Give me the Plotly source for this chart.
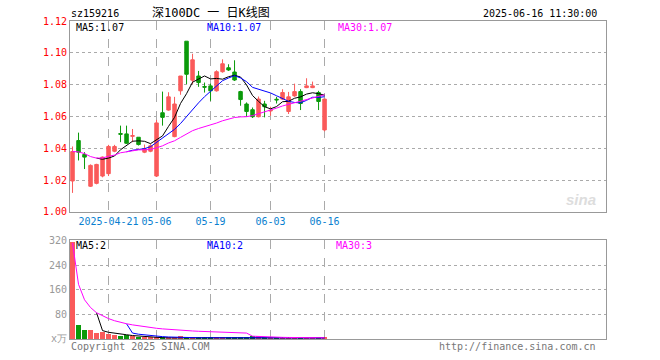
import plotly.graph_objects as go
import pandas as pd

dates = ["2025-04-11","2025-04-14","2025-04-15","2025-04-16","2025-04-17","2025-04-18",
         "2025-04-21","2025-04-22","2025-04-23","2025-04-24","2025-04-25","2025-04-28",
         "2025-04-29","2025-04-30","2025-05-06","2025-05-07","2025-05-08","2025-05-09",
         "2025-05-12","2025-05-13","2025-05-14","2025-05-15","2025-05-16","2025-05-19",
         "2025-05-20","2025-05-21","2025-05-22","2025-05-23","2025-05-26","2025-05-27",
         "2025-05-28","2025-05-29","2025-05-30","2025-06-03","2025-06-04","2025-06-05",
         "2025-06-06","2025-06-09","2025-06-10","2025-06-11","2025-06-12","2025-06-13",
         "2025-06-16"]

open_ = [1.0194,1.0448,1.0361,1.0161,1.0179,1.0225,1.0240,1.0381,1.0492,1.0490,1.0475,1.0469,
         1.0375,1.0381,1.0225,1.0623,1.0640,1.0473,1.0761,1.1073,1.0828,1.0854,1.0788,1.0792,
         1.0761,1.0881,1.0906,1.0879,1.0756,1.0678,1.0642,1.0598,1.0678,1.0634,1.0708,1.0709,
         1.0631,1.0729,1.0756,1.0781,1.0781,1.0750,1.0515]
high = [1.0411,1.0498,1.0375,1.0298,1.0302,1.0348,1.0421,1.0421,1.0542,1.0542,1.0521,1.0469,
        1.0423,1.0425,1.0578,1.0756,1.0752,1.0723,1.0854,1.1073,1.0994,1.0886,1.0813,1.0806,
        1.0890,1.0959,1.0928,1.0953,1.0761,1.0688,1.0656,1.0725,1.0698,1.0661,1.0723,1.0771,
        1.0754,1.0806,1.0771,1.0840,1.0819,1.0761,1.0709]
low = [1.0119,1.0323,1.0269,1.0156,1.0173,1.0217,1.0225,1.0375,1.0438,1.0427,1.0438,1.0417,
       1.0369,1.0375,1.0219,1.0542,1.0636,1.0469,1.0736,1.0803,1.0803,1.0786,1.0750,1.0698,
       1.0756,1.0875,1.0886,1.0823,1.0667,1.0598,1.0590,1.0594,1.0594,1.0604,1.0681,1.0703,
       1.0615,1.0723,1.0640,1.0778,1.0778,1.0640,1.0506]
close = [1.0379,1.0375,1.0344,1.0292,1.0298,1.0344,1.0411,1.0411,1.0488,1.0431,1.0479,1.0423,
         1.0396,1.0415,1.0559,1.0594,1.0723,1.0678,1.0854,1.0865,1.0956,1.0813,1.0784,1.0761,
         1.0881,1.0931,1.0892,1.0829,1.0706,1.0631,1.0598,1.0709,1.0661,1.0638,1.0704,1.0750,
         1.0723,1.0756,1.0681,1.0792,1.0792,1.0694,1.0709]
volume = [312,43,27,27,17.6,22,15,11,8,13,9,6,3,3,5,4,3,3,8,5,4,3,3,3,
          3,4,3,3,3,4,8,9,3,4,3,4,4,3,3,6,3,3,3]

price_ticks = [1.00,1.02,1.04,1.06,1.08,1.10,1.12]
vol_ticks = [0,80,160,240,320]
vol_ticktext = ["x万","80","160","240","320"]
date_ticks = ["2025-04-21","2025-05-06","2025-05-19","2025-06-03","2025-06-16"]
date_ticktext = ["2025-04-21","05-06","05-19","06-03","06-16"]

RED = "#fa5a5a"
GREEN = "#0a9a0a"
MONO = "DejaVu Sans Mono"

cs = pd.Series(close)
ma5 = cs.rolling(5).mean()
ma10 = cs.rolling(10).mean()
ma30 = cs.rolling(30, min_periods=1).mean()
vs = pd.Series(volume)
vma5 = vs.rolling(5).mean()
vma10 = vs.rolling(10).mean()
vma30 = vs.rolling(30, min_periods=1).mean()

vol_colors = [RED if c >= o else GREEN for o, c in zip(open_, close)]

fig = go.Figure()
fig.add_trace(go.Candlestick(
    x=dates, open=open_, high=high, low=low, close=close,
    increasing=dict(line=dict(color=RED, width=1), fillcolor=RED),
    decreasing=dict(line=dict(color=GREEN, width=1), fillcolor=GREEN),
    whiskerwidth=0, xaxis="x", yaxis="y", showlegend=False))
for s, col in [(ma5, "#000000"), (ma10, "#0000ff"), (ma30, "#ff00ff")]:
    fig.add_trace(go.Scatter(x=dates, y=s, mode="lines", line=dict(color=col, width=1),
                             xaxis="x", yaxis="y", showlegend=False))

fig.add_trace(go.Bar(x=dates, y=volume, marker=dict(color=vol_colors, line=dict(width=0)),
                     width=0.83, xaxis="x2", yaxis="y2", showlegend=False))
for s, col in [(vma5, "#000000"), (vma10, "#0000ff"), (vma30, "#ff00ff")]:
    fig.add_trace(go.Scatter(x=dates, y=s, mode="lines", line=dict(color=col, width=1),
                             xaxis="x2", yaxis="y2", showlegend=False))

L, R, T, B = 70, 606, 20.7, 339.5
W, H = 660, 360
ph = B - T
def py(y):
    return (B - y) / ph
def px(x):
    return (x - L) / (R - L)

xr = [-0.42, 88.9]
axis_common = dict(type="category", range=xr, showline=True, mirror=True, linecolor="#999999",
                   linewidth=1, showgrid=True, gridcolor="#aaaaaa", griddash="dash", gridwidth=1,
                   tickvals=date_ticks, ticks="", zeroline=False, fixedrange=True, tickangle=0)

fig.update_layout(
    width=W, height=H, margin=dict(l=L, r=W - R, t=T, b=H - B),
    paper_bgcolor="white", plot_bgcolor="white", boxgap=0.17, bargap=0,
    xaxis=dict(axis_common, anchor="y", domain=[0, 1], ticktext=date_ticktext,
               tickfont=dict(family=MONO, size=10, color="#0a7fd0"), rangeslider=dict(visible=False)),
    xaxis2=dict(axis_common, anchor="y2", domain=[0, 1], showticklabels=False, matches="x"),
    yaxis=dict(domain=[py(212), 1], range=[1.0, 1.12], tickvals=price_ticks,
               tickformat=".2f", tickfont=dict(family=MONO, size=10, color="#ff0000"),
               showline=True, mirror=True, linecolor="#999999", linewidth=1,
               showgrid=True, gridcolor="#aaaaaa", griddash="dot", zeroline=False, ticks=""),
    yaxis2=dict(domain=[0, py(240.7)], range=[0, 320], tickvals=vol_ticks, ticktext=vol_ticktext,
                tickfont=dict(family=MONO, size=10, color="#999999"),
                showline=True, mirror=True, linecolor="#999999", linewidth=1,
                showgrid=True, gridcolor="#aaaaaa", griddash="dot", zeroline=False, ticks=""),
)

def ann(text, x, y, color="#000000", size=10, xanchor="left", family=MONO, **kw):
    fig.add_annotation(text=text, x=px(x), y=py(y), xref="paper", yref="paper",
                       xanchor=xanchor, yanchor="middle", showarrow=False,
                       font=dict(family=family, size=size, color=color), **kw)

ann("sz159216", 69, 13)
ann("深100DC 一 日K线图", 150, 13, size=12, family="DejaVu Sans Mono, Noto Sans CJK SC")
ann("2025-06-16 11:30:00", 599, 13, xanchor="right")
ann("MA5:1.07", 74, 27)
ann("MA10:1.07", 205, 27, color="#0000ff")
ann("MA30:1.07", 336, 27, color="#ff00ff")
ann("MA5:2", 74, 246)
ann("MA10:2", 205, 246, color="#0000ff")
ann("MA30:3", 334, 246, color="#ff00ff")
ann("Copyright 2025 SINA.COM", 69, 347, color="#777777")
ann("http://finance.sina.com.cn", 598, 347, color="#777777", xanchor="right")
ann("<b><i>sina</i></b>", 598, 200, color="#dddddd", size=15, xanchor="right",
    family="Liberation Sans")

fig.write_html("out.html")
